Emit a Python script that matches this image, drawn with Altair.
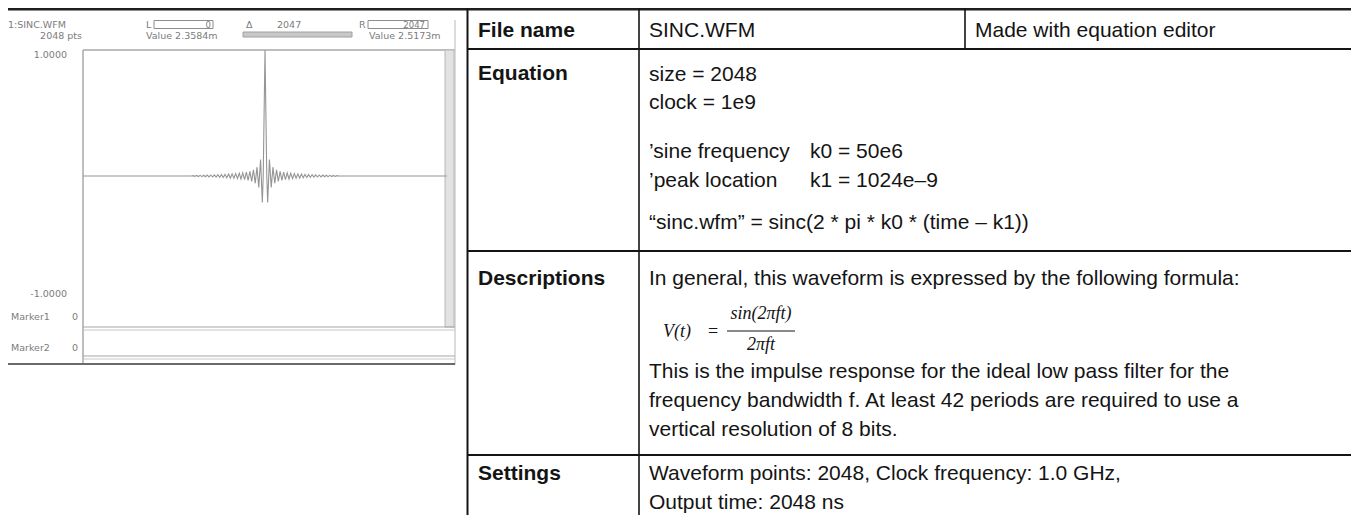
import altair as alt
import pandas as pd

# ------------------------------------------------------------------
# DATA
# ------------------------------------------------------------------
record_length = 2048          # samples in SINC.WFM
peak_sample = 1024            # location of the main peak

# Right-hand half of the waveform as seen on screen: offset from the peak
# (in samples) and the lobe value read off the display.
lobe_offsets = [0, 10, 15, 25, 35, 45, 55, 65, 75, 85, 95, 105, 115, 125,
                135, 145, 155, 165, 175, 185, 195, 205, 215, 225, 235, 245,
                255, 265, 275, 285, 295, 305, 315, 325, 335, 345, 355, 365,
                375, 385, 395, 405, 415]
lobe_values = [1.0, 0.0, -0.21, 0.13, -0.09, 0.07, -0.058, 0.049, -0.042,
               0.037, -0.034, 0.030, -0.028, 0.025, -0.024, 0.022, -0.021,
               0.019, -0.018, 0.017, -0.016, 0.015, -0.014, 0.013, -0.012,
               0.011, -0.010, 0.010, -0.009, 0.009, -0.008, 0.008, -0.007,
               0.007, -0.006, 0.006, -0.005, 0.005, -0.004, 0.004,
               -0.003, 0.003, 0.0]

# waveform-editor screen texts
scr_title = "1:SINC.WFM"
scr_points = "2048 pts"
scr_ymax = "1.0000"
scr_ymin = "-1.0000"
scr_markers = ["Marker1", "Marker2"]
scr_marker_vals = ["0", "0"]
scr_left_cursor = "0"
scr_left_value = "Value  2.3584m"
scr_delta = "2047"
scr_right_cursor = "2047"
scr_right_value = "Value  2.5173m"

# table texts
row_labels = ["File name", "Equation", "Descriptions", "Settings"]
file_name = "SINC.WFM"
file_note = "Made with equation editor"
equation_lines = ["size = 2048", "clock = 1e9"]
equation_comments = ["\u2019sine frequency", "\u2019peak location"]
equation_consts = ["k0 = 50e6", "k1 = 1024e\u20139"]
equation_main = "\u201csinc.wfm\u201d = sinc(2 * pi * k0 * (time \u2013 k1))"
desc_intro = "In general, this waveform is expressed by the following formula:"
formula_lhs = "V(t)"
formula_num = "sin(2\u03c0ft)"
formula_den = "2\u03c0ft"
desc_lines = ["This is the impulse response for the ideal low pass filter for the",
              "frequency bandwidth f. At least 42 periods are required to use a",
              "vertical resolution of 8 bits."]
settings_lines = ["Waveform points: 2048, Clock frequency: 1.0 GHz,",
                  "Output time: 2048 ns"]

# ------------------------------------------------------------------
# waveform table built from the arrays
# ------------------------------------------------------------------
pairs = list(zip(lobe_offsets, lobe_values))
wave_rows = [{"n": 0, "v": 0.0}]
for off, v in reversed(pairs):
    if off != 0:
        wave_rows.append({"n": peak_sample - off, "v": v})
for off, v in pairs:
    wave_rows.append({"n": peak_sample + off, "v": v})
wave_rows.append({"n": record_length - 1, "v": 0.0})
wave = pd.DataFrame(wave_rows)

# ------------------------------------------------------------------
# layout helpers (page pixel coordinates -> chart coordinates)
# ------------------------------------------------------------------
OX, OY = 8, 8
W, H = 1343, 507
SANS = "Liberation Sans, Arial, Helvetica, sans-serif"
SERIF = "Liberation Serif, Times New Roman, serif"
SCR = "DejaVu Sans, Verdana, sans-serif"
INK = "#141414"
SCR_INK = "#7c7c7c"
FS = 21
SFS = 9.5

layers = []


def text(s, X, Y, size=FS, weight="normal", font=SANS, color=INK,
         align="left", style="normal"):
    layers.append(
        alt.Chart(alt.Data(values=[{"t": s}]))
        .mark_text(align=align, baseline="alphabetic", fontSize=size,
                   fontWeight=weight, font=font, color=color,
                   fontStyle=style)
        .encode(x=alt.value(X - OX), y=alt.value(Y - OY), text="t:N")
    )


def rule(X1, Y1, X2, Y2, w=1.0, color=INK):
    layers.append(
        alt.Chart(alt.Data(values=[{}]))
        .mark_rule(strokeWidth=w, color=color)
        .encode(x=alt.value(X1 - OX), y=alt.value(Y1 - OY),
                x2=alt.value(X2 - OX), y2=alt.value(Y2 - OY))
    )


def box(X1, Y1, X2, Y2, fill="#ffffff", stroke="#999999", sw=1.0):
    layers.append(
        alt.Chart(alt.Data(values=[{}]))
        .mark_rect(fill=fill, stroke=stroke, strokeWidth=sw)
        .encode(x=alt.value(X1 - OX), y=alt.value(Y1 - OY),
                x2=alt.value(X2 - OX), y2=alt.value(Y2 - OY))
    )


# ------------------------------------------------------------------
# top rule
# ------------------------------------------------------------------
box(0 + OX, 0 + OY, W + OX, 2.5 + OY, fill="#1e1e1e", stroke="#1e1e1e", sw=0)

# ------------------------------------------------------------------
# waveform editor screen
# ------------------------------------------------------------------
GR = "#a8a8a8"
rule(7, 20, 7, 365, 1.5, GR)            # outer left border
rule(83, 50, 83, 365, 1.5, GR)          # plot left border
rule(83, 50, 455, 50, 1.5, GR)          # plot top border
rule(455, 20, 455, 365, 1.2, "#c4c4c4") # right border
box(445, 50, 454, 327, fill="#e2e2e2", stroke="#b8b8b8", sw=1)  # scroll bar
rule(83, 327, 455, 327, 1.2, GR)
rule(83, 330, 455, 330, 1.2, "#c8c8c8")
rule(83, 356, 455, 356, 1.2, GR)
rule(83, 359, 455, 359, 1.2, "#c8c8c8")
rule(7, 364, 455, 364, 2.2, "#6a6a6a")  # bottom edge

text(scr_title, 8, 28, size=SFS, font=SCR, color=SCR_INK)
text(scr_points, 82, 39, size=SFS, font=SCR, color=SCR_INK, align="right")
text(scr_ymax, 67, 58, size=SFS, font=SCR, color=SCR_INK, align="right")
text(scr_ymin, 67, 297, size=SFS, font=SCR, color=SCR_INK, align="right")
for i, (m, mv) in enumerate(zip(scr_markers, scr_marker_vals)):
    yb = [320, 351][i]
    text(m, 11, yb, size=SFS, font=SCR, color=SCR_INK)
    text(mv, 78, yb, size=SFS, font=SCR, color=SCR_INK, align="right")

text("L", 146, 28, size=SFS, font=SCR, color=SCR_INK)
box(154, 20.5, 213, 28.5, fill="#ffffff", stroke="#8c8c8c")
text(scr_left_cursor, 211, 27.5, size=8.5, font=SCR, color=SCR_INK, align="right")
text(scr_left_value, 146, 39, size=SFS, font=SCR, color=SCR_INK)
box(243, 32, 352, 37, fill="#c8c8c8", stroke="#a0a0a0")
text("\u0394", 246, 28, size=SFS, font=SCR, color=SCR_INK)
text(scr_delta, 277, 28, size=SFS, font=SCR, color=SCR_INK)
text("R", 359, 28, size=SFS, font=SCR, color=SCR_INK)
box(368, 20.5, 428, 28.5, fill="#ffffff", stroke="#8c8c8c")
text(scr_right_cursor, 425, 27.5, size=8.5, font=SCR, color=SCR_INK, align="right")
text(scr_right_value, 369, 39, size=SFS, font=SCR, color=SCR_INK)

# waveform itself, through the library's scales
layers.append(
    alt.Chart(wave)
    .mark_line(color="#959595", strokeWidth=1.1)
    .encode(
        x=alt.X("n:Q", axis=None,
                scale=alt.Scale(domain=[0, record_length], nice=False,
                                zero=False, range=[83 - OX, 447 - OX])),
        y=alt.Y("v:Q", axis=None,
                scale=alt.Scale(domain=[-1, 1], nice=False, zero=False,
                                range=[302 - OY, 50 - OY])),
        order="n:Q",
    )
)

# ------------------------------------------------------------------
# information table
# ------------------------------------------------------------------
TL, TC1, TC2 = 467.5, 639, 965
TR = W + OX
rule(TL, 8, TL, 523, 2.0)
rule(TC1, 8, TC1, 523, 1.6)
rule(TC2, 8, TC2, 49, 1.6)
for yl in [49, 251, 455]:
    rule(TL, yl, TR, yl, 1.8)

LX, VX = 478, 649
for lab, yb in zip(row_labels, [37, 80, 285, 480]):
    text(lab, LX, yb, weight="bold")

text(file_name, VX, 37)
text(file_note, TC2 + 10, 37)

text(equation_lines[0], VX, 81)
text(equation_lines[1], VX, 109)
text(equation_comments[0], VX, 158)
text(equation_comments[1], VX, 187)
text(equation_consts[0], 810, 158)
text(equation_consts[1], 810, 187)
text(equation_main, VX, 229)

text(desc_intro, VX, 285)
text(formula_lhs, 663, 337, size=18, font=SERIF, style="italic")
text("=", 708, 337, size=18, font=SERIF)
text(formula_num, 761, 319, size=18, font=SERIF, style="italic", align="center")
rule(727, 331, 795, 331, 1.0)
text(formula_den, 761, 350, size=18, font=SERIF, style="italic", align="center")
for line, yb in zip(desc_lines, [378, 407, 436]):
    text(line, VX, yb)

for line, yb in zip(settings_lines, [480, 509]):
    text(line, VX, yb)

chart = (
    alt.layer(*layers)
    .properties(width=W, height=H, padding=0, autosize="none",
                background="#ffffff")
    .configure_view(stroke=None)
)

chart.save("out.html", embed_options={"renderer": "svg", "actions": False})
